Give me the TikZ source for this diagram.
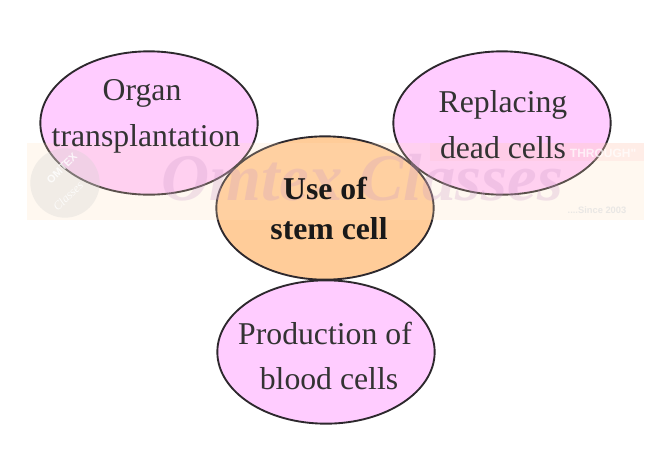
\documentclass[tikz,border=0pt]{standalone}
\usepackage{fontspec}
\setmainfont{Liberation Serif}
\newfontfamily\wmsans{Liberation Sans}
\usetikzlibrary{shapes.geometric}
\definecolor{pinkfill}{RGB}{255,204,255}
\definecolor{orangefill}{RGB}{255,204,153}
\definecolor{edgeink}{RGB}{45,40,45}
\definecolor{bandcol}{RGB}{255,226,190}
\definecolor{wmtext}{RGB}{200,150,200}
\tikzset{
  bubble/.style={ellipse,draw=edgeink,line width=1.4pt,fill=pinkfill,minimum width=163pt,minimum height=107.5pt,inner sep=0pt},
  hub/.style={bubble,fill=orangefill},
  lab/.style={text=black!80,font=\fontsize{23.8pt}{26pt}\selectfont,align=center},
  hublab/.style={text=black!90,font=\fontsize{23.8pt}{24pt}\selectfont\bfseries,align=center}
}
\begin{document}
\begin{tikzpicture}[x=0.75pt,y=-0.75pt]
\useasboundingbox (0,0) rectangle (670,472);
\fill[white] (0,0) rectangle (670,472);
\node[bubble] (organ) at (149,123) {};
\node[bubble] (replace) at (502,123) {};
\node[hub] (hub) at (325,208) {};
\node[bubble] (blood) at (326,352) {};
% watermark band
\fill[bandcol,opacity=.22] (27,143) rectangle (644,220);
\fill[pink,opacity=.18] (430,143) rectangle (644,161);
\node[text=white,opacity=.7,font=\wmsans\bfseries\fontsize{9pt}{9pt}\selectfont,anchor=east] (thr) at (641,153) {THROUGH"};
\node[text=black!12,opacity=.7,font=\wmsans\bfseries\fontsize{7pt}{7pt}\selectfont,anchor=east] (since) at (631,210) {....Since 2003};
\node[circle,fill=black!18,opacity=.3,minimum size=52pt,inner sep=0pt] (logo) at (65,183) {};
\node[text=white,opacity=.8,rotate=45,font=\wmsans\bfseries\fontsize{8pt}{8pt}\selectfont] (om) at (62,168) {OMTEX};
\node[text=white,opacity=.8,rotate=45,font=\itshape\fontsize{9pt}{9pt}\selectfont] (cl) at (68,196) {Classes};
\node[text=wmtext,opacity=.25,font=\bfseries\itshape\fontsize{50pt}{50pt}\selectfont] (wm) at (362,178) {Omtex Classes};
% labels
\node[lab] (t1a) at (142,93) {Organ};
\node[lab] (t1b) at (146,139) {transplantation};
\node[lab] (t2a) at (503,105) {Replacing};
\node[lab] (t2b) at (503,148) {dead cells};
\node[hublab] (t3a) at (325,188) {Use of};
\node[hublab] (t3b) at (329,229) {stem cell};
\node[lab] (t4a) at (325,333) {Production of};
\node[lab] (t4b) at (329,379) {blood cells};
\end{tikzpicture}
\end{document}
